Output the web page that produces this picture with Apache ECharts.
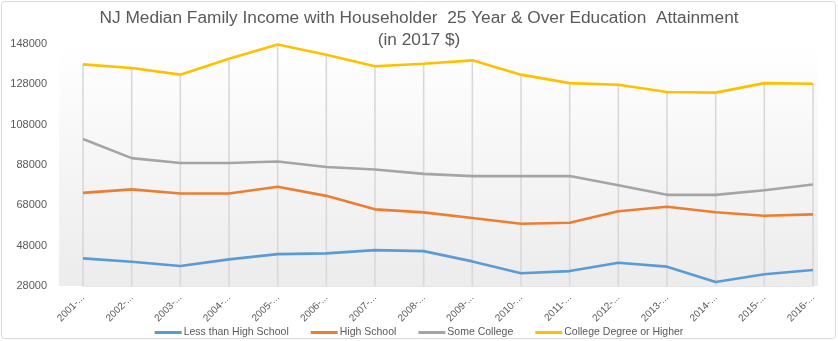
<!DOCTYPE html>
<html>
<head>
<meta charset="utf-8">
<script src="https://cdn.jsdelivr.net/npm/echarts@6/dist/echarts.min.js"></script>
<style>
  html, body { margin: 0; padding: 0; background: #ffffff; }
  #chart { width: 838px; height: 341px; }
</style>
</head>
<body>
<div id="chart"></div>
<script>
// NJ median family income by householder education attainment (2017 dollars)
const categories = ['2001-...', '2002-...', '2003-...', '2004-...', '2005-...', '2006-...', '2007-...', '2008-...',
                    '2009-...', '2010-...', '2011-...', '2012-...', '2013-...', '2014-...', '2015-...', '2016-...'];
const lessThanHighSchool = [41700, 40000, 37900, 41200, 43800, 44200, 45800, 45300, 40200, 34300, 35400, 39500, 37600, 30000, 33800, 35900];
const highSchool         = [74200, 75900, 73900, 73900, 77200, 72700, 66000, 64500, 61700, 58900, 59400, 65100, 67300, 64600, 62800, 63500];
const someCollege        = [100900, 91400, 89000, 89000, 89700, 87000, 85800, 83600, 82500, 82500, 82500, 78000, 73200, 73200, 75500, 78300];
const collegeOrHigher    = [137900, 136100, 132800, 140700, 147800, 142700, 137000, 138200, 139900, 132800, 128600, 127800, 124200, 123900, 128600, 128300];
const yTicks = { min: 28000, max: 148000, step: 20000 };

const FONT = "'Liberation Sans', Arial, sans-serif";
const TEXT = '#595959';

const chart = echarts.init(document.getElementById('chart'), null, { renderer: 'canvas' });

// Drop lines run from the top series down to the category axis
const dropTop = collegeOrHigher.map((v, i) =>
  Math.max(v, someCollege[i], highSchool[i], lessThanHighSchool[i]));

function lineSeries(name, data, color) {
  return {
    name: name,
    type: 'line',
    data: data,
    showSymbol: false,
    symbol: 'none',
    lineStyle: { color: color, width: 2.6 },
    itemStyle: { color: color },
    z: 3
  };
}

chart.setOption({
  backgroundColor: '#ffffff',
  animation: false,
  title: {
    text: 'NJ Median Family Income with Householder  25 Year & Over Education  Attainment\n(in 2017 $)',
    left: 'center',
    top: 2,
    textStyle: { fontFamily: FONT, fontSize: 17.3, fontWeight: 'normal', color: TEXT, lineHeight: 22 }
  },
  graphic: [
    {
      type: 'rect',
      silent: true,
      z: -10,
      shape: { x: 1.5, y: 1.5, width: 834, height: 337, r: 3 },
      style: { fill: 'none', stroke: '#d9d9d9', lineWidth: 1 }
    },
    {
      type: 'rect',
      silent: true,
      z: -9,
      shape: { x: 59, y: 44, width: 759, height: 242 },
      style: {
        fill: new echarts.graphic.LinearGradient(0, 0, 0, 1, [
          { offset: 0, color: '#ffffff' },
          { offset: 1, color: '#ececec' }
        ])
      }
    }
  ],
  grid: { left: 83, right: 25, top: 44, bottom: 55, containLabel: false },
  legend: {
    top: 322,
    left: 'center',
    icon: 'rect',
    itemWidth: 27,
    itemHeight: 3,
    itemGap: 22,
    textStyle: { fontFamily: FONT, fontSize: 10.5, color: TEXT, padding: [0, 0, 0, -3] },
    data: ['Less than High School', 'High School', 'Some College', 'College Degree or Higher']
  },
  xAxis: {
    type: 'category',
    data: categories,
    boundaryGap: false,
    axisLine: { show: true, lineStyle: { color: '#e6e6e6', width: 1 } },
    axisTick: { show: false },
    splitLine: { show: false },
    axisLabel: { rotate: 45, margin: 10, fontFamily: FONT, fontSize: 10, color: TEXT, interval: 0 }
  },
  yAxis: {
    type: 'value',
    min: yTicks.min,
    max: yTicks.max,
    interval: yTicks.step,
    axisLine: { show: false },
    axisTick: { show: false },
    splitLine: { show: false },
    axisLabel: {
      margin: 36,
      fontFamily: FONT,
      fontSize: 11,
      color: TEXT,
      formatter: (v) => String(v)
    }
  },
  series: [
    {
      name: 'dropLines',
      type: 'bar',
      data: dropTop,
      barWidth: 1.6,
      itemStyle: { color: '#d9d9d9' },
      silent: true,
      z: 1,
      clip: true
    },
    lineSeries('Less than High School', lessThanHighSchool, '#5B9BD5'),
    lineSeries('High School', highSchool, '#ED7D31'),
    lineSeries('Some College', someCollege, '#A5A5A5'),
    lineSeries('College Degree or Higher', collegeOrHigher, '#FFC000')
  ]
});
</script>
</body>
</html>
